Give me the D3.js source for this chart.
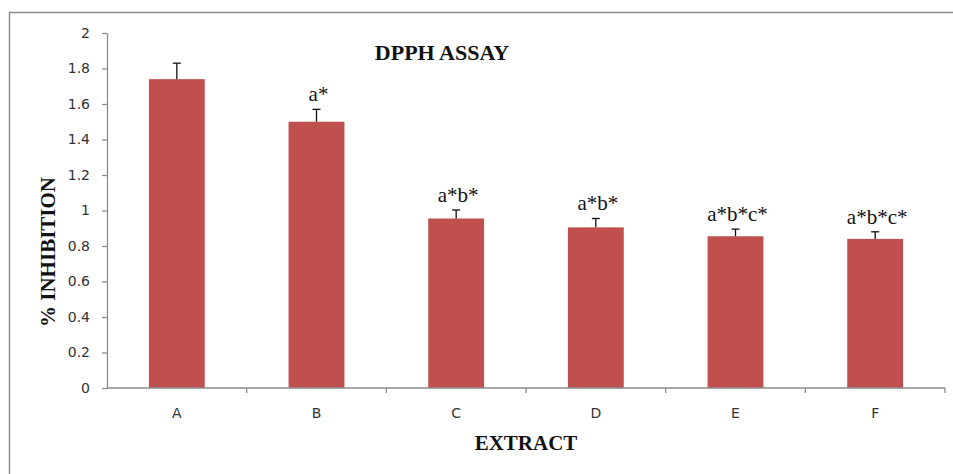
<!DOCTYPE html>
<html>
<head>
<meta charset="utf-8">
<script src="https://cdn.jsdelivr.net/npm/d3@7"></script>
<style>
  html, body { margin: 0; padding: 0; background: #fff; }
  svg { display: block; }
</style>
</head>
<body>
<svg id="chart" width="953" height="474"></svg>
<script>
const categories = ["A", "B", "C", "D", "E", "F"];
const values = [1.74, 1.50, 0.955, 0.905, 0.855, 0.84];
const errors = [0.09, 0.07, 0.048, 0.05, 0.04, 0.04];
const annotations = ["", "a*", "a*b*", "a*b*", "a*b*c*", "a*b*c*"];
const yTicks = [0, 0.2, 0.4, 0.6, 0.8, 1, 1.2, 1.4, 1.6, 1.8, 2];
const title = "DPPH ASSAY";
const xTitle = "EXTRACT";
const yTitle = "% INHIBITION";

const svg = d3.select("#chart");
const W = 953, H = 474;
const m = { left: 107, right: 8, top: 33, bottom: 86 };

// outer frame
svg.append("rect")
  .attr("x", 9.5).attr("y", 12.5)
  .attr("width", W + 20).attr("height", H + 20)
  .attr("fill", "#fff")
  .attr("stroke", "#8a8a8a").attr("stroke-width", 1.5);

const x = d3.scaleBand()
  .domain(categories)
  .range([m.left, W - m.right])
  .paddingInner(0.6).paddingOuter(0.3);

const y = d3.scaleLinear().domain([0, 2]).range([H - m.bottom, m.top]);

const axisColor = "#8c8c8c";
const tickTextColor = "#333";

// bars
svg.append("g").selectAll("rect").data(categories).join("rect")
  .attr("x", d => x(d))
  .attr("y", (d, i) => y(values[i]))
  .attr("width", x.bandwidth())
  .attr("height", (d, i) => y(0) - y(values[i]))
  .attr("fill", "#C0504D");

// error bars (upper)
const eg = svg.append("g").attr("stroke", "#111").attr("stroke-width", 1.3);
categories.forEach((c, i) => {
  const cx = x(c) + x.bandwidth() / 2;
  eg.append("line").attr("x1", cx).attr("x2", cx)
    .attr("y1", y(values[i])).attr("y2", y(values[i] + errors[i]));
  eg.append("line").attr("x1", cx - 4).attr("x2", cx + 4)
    .attr("y1", y(values[i] + errors[i])).attr("y2", y(values[i] + errors[i]));
});

// annotations
svg.append("g").selectAll("text").data(categories).join("text")
  .attr("x", d => x(d) + x.bandwidth() / 2 + 2)
  .attr("y", (d, i) => y(values[i] + errors[i]) - 8)
  .attr("text-anchor", "middle")
  .attr("font-family", "'Liberation Serif', 'DejaVu Serif', serif")
  .attr("font-size", 21)
  .attr("fill", "#111")
  .text((d, i) => annotations[i]);

// y axis
const yAxis = svg.append("g")
  .attr("transform", `translate(${m.left},0)`)
  .call(d3.axisLeft(y).tickValues(yTicks).tickSize(5).tickSizeOuter(0)
    .tickFormat(d => String(+d.toFixed(1))));
yAxis.select(".domain").attr("stroke", axisColor).attr("stroke-width", 1.3);
yAxis.selectAll(".tick line").attr("stroke", axisColor).attr("stroke-width", 1.3);
yAxis.selectAll(".tick text")
  .attr("x", -17)
  .attr("font-family", "'DejaVu Sans', Verdana, sans-serif")
  .attr("font-size", 14).attr("fill", tickTextColor);

// x axis
const xAxis = svg.append("g")
  .attr("transform", `translate(0,${y(0)})`)
  .call(d3.axisBottom(x).tickSize(0).tickSizeOuter(0));
xAxis.select(".domain").attr("stroke", axisColor).attr("stroke-width", 1.3)
  .attr("d", `M${m.left},0H${W - m.right}`);
xAxis.selectAll(".tick text")
  .attr("y", 20)
  .attr("font-family", "'DejaVu Sans', Verdana, sans-serif")
  .attr("font-size", 14).attr("fill", tickTextColor);
// boundary ticks between categories
const bounds = d3.range(categories.length + 1).map(i => m.left + i * (W - m.right - m.left) / categories.length);
xAxis.selectAll(".bound").data(bounds.slice(1)).join("line")
  .attr("class", "bound")
  .attr("x1", d => d).attr("x2", d => d)
  .attr("y1", 0).attr("y2", 5)
  .attr("stroke", axisColor).attr("stroke-width", 1.3);

// titles
svg.append("text")
  .attr("x", 442).attr("y", 60)
  .attr("text-anchor", "middle")
  .attr("font-family", "'Liberation Serif', 'DejaVu Serif', serif")
  .attr("font-weight", "bold").attr("font-size", 22)
  .attr("fill", "#111")
  .style("white-space", "pre")
  .text(title);

svg.append("text")
  .attr("x", (m.left + W - m.right) / 2).attr("y", 450)
  .attr("text-anchor", "middle")
  .attr("font-family", "'Liberation Serif', 'DejaVu Serif', serif")
  .attr("font-weight", "bold").attr("font-size", 21)
  .attr("fill", "#111")
  .text(xTitle);

svg.append("text")
  .attr("transform", "translate(55,252) rotate(-90)")
  .attr("text-anchor", "middle")
  .attr("font-family", "'Liberation Serif', 'DejaVu Serif', serif")
  .attr("font-weight", "bold").attr("font-size", 21)
  .attr("fill", "#111")
  .text(yTitle);
</script>
</body>
</html>
